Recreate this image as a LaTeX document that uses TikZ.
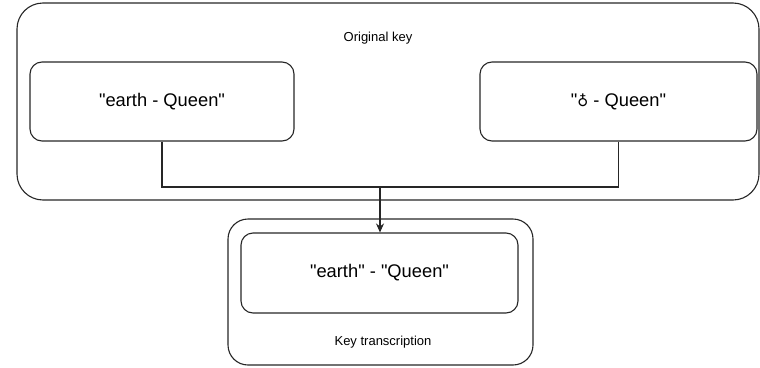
\documentclass[tikz,border=0pt]{standalone}
\usepackage{fontspec}
\setmainfont{Liberation Sans}[Ligatures=TeXOff]
\newfontfamily\symfont{DejaVu Sans}
\usetikzlibrary{arrows.meta}

\tikzset{
  frame/.style={draw=black!85, line width=1.1pt, inner sep=0pt},
  bigframe/.style={frame, rounded corners=26pt},
  groupframe/.style={frame, rounded corners=20pt},
  keybox/.style={frame, rounded corners=12pt, font=\fontsize{18.3}{22}\selectfont},
  caption/.style={inner sep=0pt, font=\fontsize{13}{16}\selectfont},
  link/.style={draw=black!85, line width=1.1pt},
  arrowlink/.style={link, -{Stealth[length=9pt,width=8pt]}}
}

\begin{document}
\begin{tikzpicture}[x=1pt, y=-1pt]
  \useasboundingbox (0,0) rectangle (760,367);

  % group holding the original key variants
  \node[bigframe, minimum width=742pt, minimum height=197pt] (orig) at (388,101.5) {};
  \node[caption] (origlabel) at (378,38) {Original key};
  \node[keybox, minimum width=264pt, minimum height=79pt] (plain) at (162,101.5) {"earth - Queen"};
  \node[keybox, minimum width=277pt, minimum height=79pt] (symbol) at (618.5,101.5)
    {"{\symfont\fontsize{15}{16}\selectfont ♁} - Queen"};

  % group holding the transcribed key
  \node[groupframe, minimum width=305pt, minimum height=146pt] (trans) at (380.5,292) {};
  \node[keybox, minimum width=277pt, minimum height=80pt] (result) at (379.5,273) {"earth" - "Queen"};
  \node[caption] (translabel) at (383,342) {Key transcription};

  % both variants merge into one line that feeds the transcription
  \coordinate (join) at (380,187);
  \draw[link] (plain.south) |- (join);
  \draw[link] (symbol.south) |- (join);
  \draw[arrowlink] (join) -- (join |- result.north);
\end{tikzpicture}
\end{document}
